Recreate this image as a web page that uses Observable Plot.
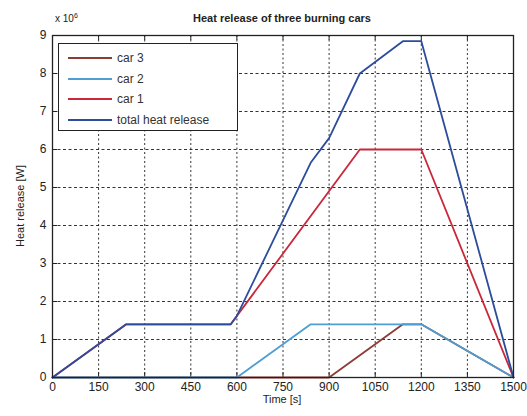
<!DOCTYPE html>
<html><head><meta charset="utf-8">
<script src="https://cdn.jsdelivr.net/npm/d3@7"></script>
<script src="https://cdn.jsdelivr.net/npm/@observablehq/plot@0.6"></script>
<style>
body{margin:0;background:#fff;font-family:"Liberation Sans",Arial,sans-serif;}
#wrap{position:relative;width:527px;height:416px;overflow:hidden;}
.ov{position:absolute;color:#222;white-space:nowrap;}
#legend{position:absolute;left:58px;top:43px;width:178px;height:86px;border:1.5px solid #222;background:#fff;}
.lg{position:absolute;left:9px;right:0;height:18px;font-size:12px;color:#333;white-space:nowrap;}
.lg span.sw{position:absolute;left:0;top:8px;width:44px;height:2px;}
.lg span.tx{position:absolute;left:49px;top:0;line-height:18px;white-space:nowrap;}
</style></head>
<body><div id="wrap"></div>
<script>
const timeTicks = [0,150,300,450,600,750,900,1050,1200,1350,1500];
const heatTicks = [0,1,2,3,4,5,6,7,8,9];
const car3 = [[0,0],[900,0],[1140,1.4],[1200,1.4],[1500,0]];
const car2 = [[0,0],[600,0],[840,1.4],[1200,1.4],[1500,0]];
const car1 = [[0,0],[240,1.4],[580,1.4],[1000,6],[1200,6],[1500,0]];
const total = [[0,0],[240,1.4],[580,1.4],[600,1.62],[840,5.65],[900,6.3],[1000,8],[1140,8.85],[1200,8.85],[1500,0]];
const seriesNames = ["car 3","car 2","car 1","total heat release"];
const seriesData = [car3, car2, car1, total];
const colors = ["#8e3b35","#4d9ed2","#c8283a","#2c4c9c"];

const rows = [];
seriesData.forEach((s,i)=>s.forEach(([t,h])=>rows.push({series:seriesNames[i], t, h})));

const W=527,H=416,mL=52,mR=14,mT=35,mB=39;
const plot = Plot.plot({
  width:W,height:H,marginLeft:mL,marginRight:mR,marginTop:mT,marginBottom:mB,
  style:{fontFamily:"Liberation Sans, Arial, sans-serif",fontSize:"12px",color:"#222",background:"#fff",overflow:"visible"},
  x:{domain:[0,1500],ticks:timeTicks,tickFormat:d3.format("d")},
  y:{domain:[0,9],ticks:heatTicks,tickFormat:d3.format("d")},
  color:{domain:seriesNames,range:colors},
  marks:[
    Plot.gridX(timeTicks,{stroke:"#111",strokeOpacity:0.85,strokeDasharray:"2,2.5",strokeWidth:1}),
    Plot.gridY(heatTicks,{stroke:"#111",strokeOpacity:0.85,strokeDasharray:"3,2.5",strokeWidth:1}),
    Plot.ruleX(timeTicks,{x:d=>d,insetTop:H-mT-mB-5,stroke:"#222"}),
    Plot.ruleX(timeTicks,{x:d=>d,insetBottom:H-mT-mB-5,stroke:"#222"}),
    Plot.ruleY(heatTicks,{y:d=>d,insetRight:W-mL-mR-5,stroke:"#222"}),
    Plot.ruleY(heatTicks,{y:d=>d,insetLeft:W-mL-mR-5,stroke:"#222"}),
    Plot.line(rows,{x:"t",y:"h",z:"series",stroke:"series",strokeWidth:1.8}),
    Plot.frame({stroke:"#222",strokeWidth:1.3}),
    Plot.axisX({ticks:timeTicks,tickFormat:d3.format("d"),tickSize:0,tickPadding:5,label:null,fontSize:12}),
    Plot.axisY({ticks:heatTicks,tickFormat:d3.format("d"),tickSize:0,tickPadding:6,label:null,fontSize:12})
  ]
});
const wrap=document.getElementById("wrap");
wrap.appendChild(plot);

function ov(html,css){const d=document.createElement("div");d.className="ov";d.innerHTML=html;Object.assign(d.style,css);wrap.appendChild(d);return d;}
ov("Heat release of three burning cars",{left:"282px",top:"12px",transform:"translateX(-50%)",fontSize:"11px",fontWeight:"bold"});
ov("x 10<sup style='font-size:7px'>6</sup>",{left:"55px",top:"12px",fontSize:"10px"});
ov("Time [s]",{left:"282px",top:"393px",transform:"translateX(-50%)",fontSize:"11px"});
ov("Heat release [W]",{left:"20px",top:"206px",transform:"translate(-50%,-50%) rotate(-90deg)",fontSize:"11px"});

const lg=document.createElement("div");lg.id="legend";wrap.appendChild(lg);
seriesNames.forEach((n,i)=>{
  const e=document.createElement("div");e.className="lg";e.style.top=(5+i*20.5)+"px";
  e.innerHTML=`<span class="sw" style="background:${colors[i]}"></span><span class="tx">${n}</span>`;
  lg.appendChild(e);
});
</script></body></html>
